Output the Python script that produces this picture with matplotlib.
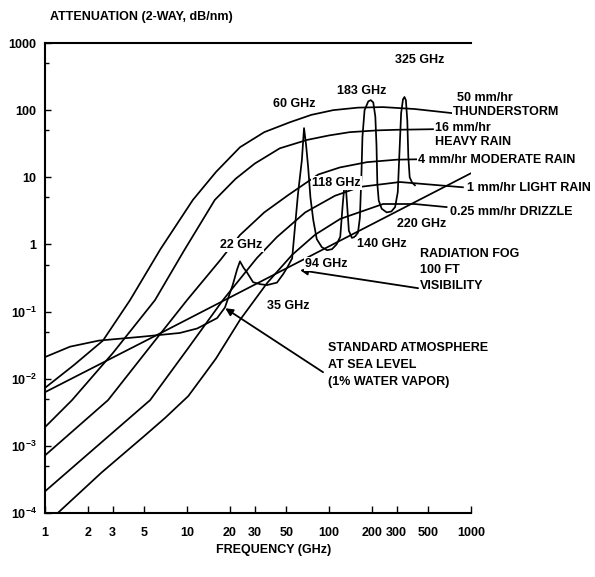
import matplotlib

matplotlib.use("Agg")
import matplotlib.pyplot as plt
from matplotlib.ticker import FixedLocator, FixedFormatter, NullFormatter

plt.rcParams["font.family"] = ["Liberation Sans", "DejaVu Sans"]
plt.rcParams["font.weight"] = "bold"
plt.rcParams["mathtext.fontset"] = "custom"
plt.rcParams["mathtext.rm"] = "Liberation Sans:bold"
plt.rcParams["mathtext.bf"] = "Liberation Sans:bold"

# rain curves, attenuation (2-way dB/nm) vs frequency (GHz)
thunder_f = [1, 1.6, 2.56, 3.97, 6.5, 11, 16, 23.6, 35, 53, 75, 107, 160, 240, 400, 747]
thunder_a = [0.0073, 0.016, 0.037, 0.148, 0.85, 4.6, 12, 28, 47, 66, 85, 100, 109, 111,
             104, 90]

heavy_f = [1, 1.55, 3, 5.95, 9.5, 15.7, 22, 30, 45, 70, 100, 140, 220, 300, 540]
heavy_a = [0.0019, 0.0048, 0.024, 0.148, 0.8, 4.6, 9.5, 16, 27, 36, 42, 47, 50, 51, 52]

moderate_f = [1, 2.78, 5.5, 10, 17.1, 23.6, 35, 51.4, 84, 119, 185, 300, 540]
moderate_a = [7.2e-4, 0.0048, 0.03, 0.148, 0.58, 1.38, 3.0, 5.4, 11, 14, 16.8, 18.3, 18.7]

light_f = [1, 2.5, 5.5, 10, 17.9, 31, 43, 68, 110, 166, 316, 877]
light_a = [2.1e-4, 0.00113, 0.0048, 0.027, 0.148, 0.625, 1.29, 3.0, 5.3, 7.2, 8.5, 7.1]

drizzle_f = [1.23, 2.5, 5, 7, 10.2, 13, 16, 23.6, 36.6, 55, 80, 120, 240, 400, 673]
drizzle_a = [1e-4, 4e-4, 0.0014, 0.0026, 0.0055, 0.011, 0.02, 0.075, 0.265, 0.7, 1.4,
             2.4, 4.0, 4.0, 3.6]

fog_f = [1, 6.8, 1000]
fog_a = [0.0063, 0.05, 11.5]

# standard atmosphere with the 22, 60, 118, 183 and 325 GHz lines
atm_f = [1, 1.5, 2.4, 4.7, 8.9, 11.8, 16.3, 18.5, 21, 22.5, 23.6, 25, 26.4, 29.2,
         32.7, 36.6, 43, 47.5, 51, 55, 60.5, 64.4, 66.7, 69, 71.3, 74, 77.5, 82,
         89, 97, 105, 113, 120, 125, 130, 134, 138, 145, 152, 160, 165, 169, 172,
         178, 189, 197, 205, 212, 216, 219, 224, 235, 255, 275, 292, 305, 315,
         322, 332, 340, 348, 356, 362, 370, 385, 403]
atm_a = [0.021, 0.030, 0.037, 0.042, 0.048, 0.056, 0.080, 0.115, 0.25, 0.42, 0.56,
         0.45, 0.386, 0.274, 0.256, 0.248, 0.27, 0.36, 0.46, 0.62, 5.7, 18, 54, 30,
         14.2, 5, 2.3, 1.2, 0.91, 0.82, 0.85, 1.0, 1.3, 4, 10, 4, 1.6, 1.25, 1.3,
         1.5, 2.5, 10, 40, 100, 135, 141, 130, 80, 30, 8, 4.5, 3.4, 3.0, 3.1, 3.6,
         6, 30, 90, 145, 157, 140, 70, 20, 10, 8.3, 7.6]

x_ticks = [1, 2, 3, 5, 10, 20, 30, 50, 100, 200, 300, 500, 1000]
y_ticks = [1e-4, 1e-3, 1e-2, 1e-1, 1, 10, 100, 1000]
y_labels = [r"$\mathregular{10^{-4}}$", r"$\mathregular{10^{-3}}$",
            r"$\mathregular{10^{-2}}$", r"$\mathregular{10^{-1}}$",
            "1", "10", "100", "1000"]

fig = plt.figure(figsize=(5.95, 5.77), dpi=100)
ax = fig.add_axes([45 / 595, 1 - 513 / 577, 426 / 595, 470 / 577])
ax.set_xscale("log")
ax.set_yscale("log")
ax.set_xlim(1, 1000)
ax.set_ylim(1e-4, 1000)

lw = 1.25
for f, a in [(thunder_f, thunder_a), (heavy_f, heavy_a), (moderate_f, moderate_a),
             (light_f, light_a), (drizzle_f, drizzle_a), (fog_f, fog_a),
             (atm_f, atm_a)]:
    ax.plot(f, a, color="black", lw=lw, solid_joinstyle="round")

ax.spines["right"].set_visible(False)
for side in ("left", "bottom", "top"):
    ax.spines[side].set_linewidth(1.5)

ax.xaxis.set_major_locator(FixedLocator(x_ticks))
ax.xaxis.set_major_formatter(FixedFormatter([str(v) for v in x_ticks]))
ax.xaxis.set_minor_formatter(NullFormatter())
ax.xaxis.set_minor_locator(FixedLocator([]))
ax.yaxis.set_major_locator(FixedLocator(y_ticks))
ax.yaxis.set_major_formatter(FixedFormatter(y_labels))
ax.yaxis.set_minor_locator(FixedLocator([5e-4, 5e-3, 5e-2, 0.5, 5, 50, 500]))
ax.yaxis.set_minor_formatter(NullFormatter())
ax.tick_params(axis="x", which="major", direction="in", length=5, width=1,
               pad=10, labelsize=9, top=False)
ax.tick_params(axis="y", which="major", direction="in", length=4, width=1,
               pad=6, labelsize=9, right=False)
ax.tick_params(axis="y", which="minor", direction="in", length=3, width=1,
               right=False)

fs = 9
box = dict(facecolor="white", edgecolor="none", pad=1)
inner = [
    ("60 GHz", 57, 125, "center"),
    ("183 GHz", 171, 193, "center"),
    ("325 GHz", 437, 558, "center"),
    ("118 GHz", 76, 8.2, "left"),
    ("22 GHz", 17.1, 0.98, "left"),
    ("220 GHz", 301, 2.0, "left"),
    ("140 GHz", 157, 1.01, "left"),
    ("94 GHz", 68, 0.51, "left"),
    ("35 GHz", 36.6, 0.12, "left"),
]
for s, x, y, ha in inner:
    ax.text(x, y, s, ha=ha, va="center", fontsize=fs, fontweight="bold",
            bbox=box, zorder=5)

outer = [
    ("50 mm/hr", 797, 151),
    ("THUNDERSTORM", 747, 94),
    ("16 mm/hr", 558, 54),
    ("HEAVY RAIN", 558, 33.5),
    ("4 mm/hr MODERATE RAIN", 424, 18),
    ("1 mm/hr LIGHT RAIN", 937, 6.9),
    ("0.25 mm/hr DRIZZLE", 711, 3.03),
    ("RADIATION FOG", 437, 0.716),
    ("100 FT", 437, 0.414),
    ("VISIBILITY", 437, 0.239),
    ("STANDARD ATMOSPHERE", 98.4, 0.0285),
    ("AT SEA LEVEL", 98.4, 0.0159),
    ("(1% WATER VAPOR)", 98.4, 0.00887),
]
for s, x, y in outer:
    ax.text(x, y, s, ha="left", va="center", fontsize=fs, fontweight="bold",
            bbox=box, zorder=5, clip_on=False)

arrow = dict(arrowstyle="-|>", color="black", lw=1.3, mutation_scale=11,
             shrinkA=0, shrinkB=0)
ax.annotate("", xy=(62.6, 0.414), xytext=(424, 0.223), arrowprops=arrow)
ax.annotate("", xy=(18.6, 0.112), xytext=(90.8, 0.0125), arrowprops=arrow)

fig.text(50 / 595, 1 - 17 / 577, "ATTENUATION (2-WAY, dB/nm)", ha="left",
         va="center", fontsize=fs, fontweight="bold")
fig.text(274 / 595, 1 - 550 / 577, "FREQUENCY (GHz)", ha="center",
         va="center", fontsize=fs, fontweight="bold")

fig.savefig("out.png", dpi=100)
